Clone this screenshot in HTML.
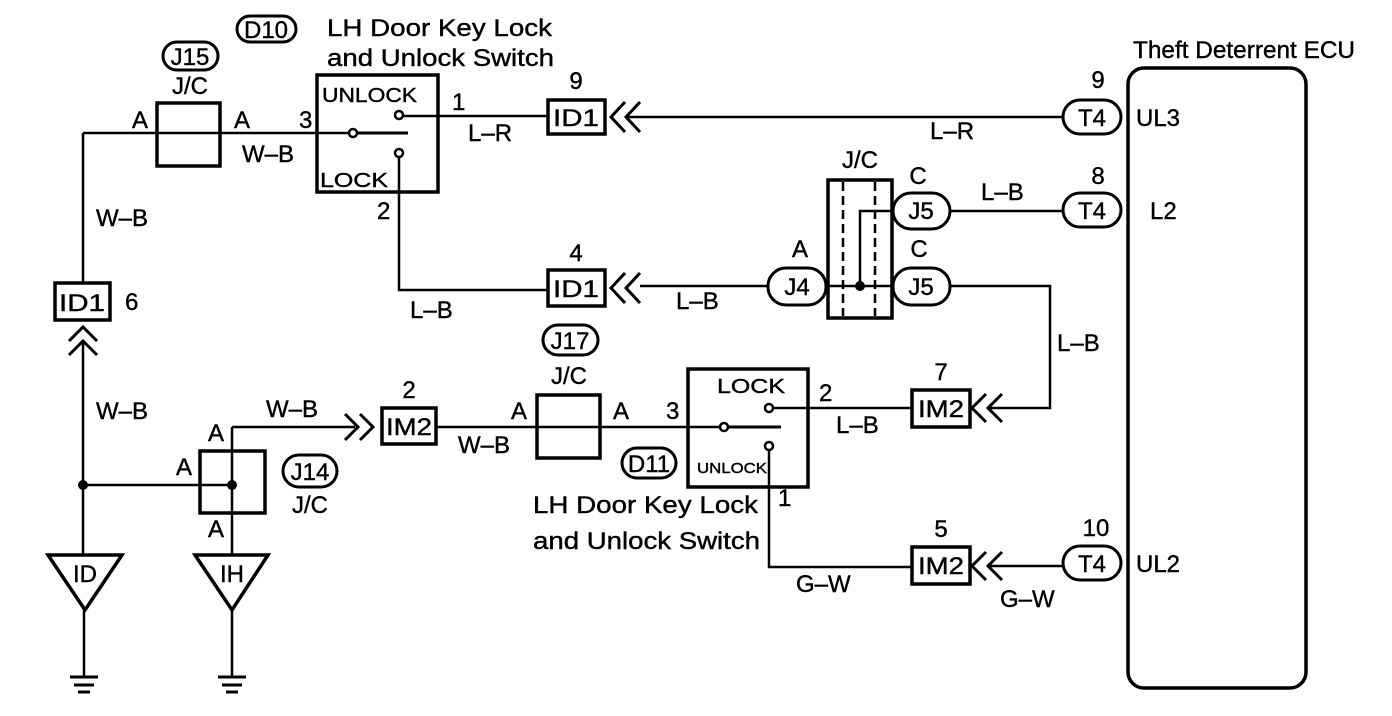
<!DOCTYPE html>
<html><head><meta charset="utf-8"><style>
html,body{margin:0;padding:0;background:#fff}
svg{display:block}
text{font-family:"Liberation Sans",sans-serif;fill:#000;stroke:#000;stroke-width:0.4}
</style></head><body>
<svg width="1392" height="716" viewBox="0 0 1392 716" xmlns="http://www.w3.org/2000/svg">
<g fill="none" stroke="#000" stroke-width="2.5">
<rect x="1128" y="68" width="178" height="620" rx="16" stroke-width="3.5"/>
<rect x="1063" y="100" width="58" height="34" rx="17" stroke-width="3"/>
<rect x="1063" y="193" width="58" height="34" rx="17" stroke-width="3"/>
<rect x="1063" y="546" width="58" height="34" rx="17" stroke-width="3"/>
<line x1="627" y1="117" x2="1063" y2="117"/>
<rect x="548" y="100" width="57" height="34" stroke-width="3.5"/>
<polyline points="625,102 611,117 625,132" stroke-width="3"/>
<polyline points="640,102 626,117 640,132" stroke-width="3"/>
<rect x="317" y="75" width="121" height="117" stroke-width="3.5"/>
<circle cx="399" cy="115" r="4"/>
<circle cx="353" cy="133" r="4"/>
<circle cx="399" cy="153" r="4"/>
<line x1="403" y1="116" x2="548" y2="116"/>
<line x1="357" y1="133" x2="408" y2="133" stroke-width="3"/>
<polyline points="399,157 399,290 548,290"/>
<line x1="83" y1="133" x2="349" y2="133"/>
<rect x="157" y="103" width="63" height="63" stroke-width="3.5"/>
<rect x="163" y="42" width="55" height="28" rx="14" stroke-width="3"/>
<rect x="237" y="16" width="59" height="26" rx="13" stroke-width="3"/>
<line x1="83" y1="133" x2="83" y2="283"/>
<rect x="55" y="283" width="55" height="37" stroke-width="3.5"/>
<polyline points="69,341 83,327 97,341" stroke-width="3"/>
<polyline points="69,355 83,341 97,355" stroke-width="3"/>
<line x1="83" y1="341" x2="83" y2="555"/>
<line x1="83" y1="485" x2="232" y2="485"/>
<rect x="200" y="451" width="65" height="62" stroke-width="3.5"/>
<line x1="232" y1="427" x2="232" y2="555"/>
<polyline points="232,427 355,427"/>
<polyline points="345,414 358,427 345,440" stroke-width="3"/>
<polyline points="360,414 373,427 360,440" stroke-width="3"/>
<rect x="382" y="408" width="54" height="36" stroke-width="3.5"/>
<line x1="436" y1="427" x2="720" y2="427"/>
<rect x="537" y="395" width="63" height="63" stroke-width="3.5"/>
<rect x="543" y="325" width="55" height="30" rx="15" stroke-width="3"/>
<rect x="283" y="455" width="54" height="32" rx="16" stroke-width="3"/>
<rect x="622" y="448" width="54" height="30" rx="15" stroke-width="3"/>
<polygon points="48,555 122,555 85,610" stroke-width="3.5"/>
<polygon points="195,555 268,555 232,610" stroke-width="3.5"/>
<line x1="84" y1="610" x2="84" y2="676"/>
<line x1="232" y1="610" x2="232" y2="676"/>
<g stroke-width="3">
<line x1="70" y1="677" x2="98" y2="677"/><line x1="74" y1="685" x2="94" y2="685"/><line x1="78" y1="692" x2="90" y2="692"/>
<line x1="218" y1="677" x2="246" y2="677"/><line x1="222" y1="685" x2="242" y2="685"/><line x1="226" y1="692" x2="238" y2="692"/>
</g>
<rect x="688" y="369" width="120" height="118" stroke-width="3.5"/>
<circle cx="769" cy="408" r="4"/>
<circle cx="724" cy="427" r="4"/>
<circle cx="769" cy="446" r="4"/>
<line x1="728" y1="427" x2="781" y2="427" stroke-width="3"/>
<line x1="773" y1="408" x2="912" y2="408"/>
<polyline points="769,450 769,567 912,567"/>
<rect x="912" y="390" width="58" height="37" stroke-width="3.5"/>
<polyline points="986,394 972,408 986,422" stroke-width="3"/>
<polyline points="1002,394 988,408 1002,422" stroke-width="3"/>
<polyline points="990,408 1050,408 1050,286 950,286"/>
<rect x="912" y="547" width="58" height="37" stroke-width="3.5"/>
<polyline points="986,552 972,566 986,580" stroke-width="3"/>
<polyline points="1002,552 988,566 1002,580" stroke-width="3"/>
<line x1="990" y1="566" x2="1063" y2="566"/>
<rect x="828" y="180" width="64" height="138" stroke-width="3.5"/>
<line x1="843" y1="182" x2="843" y2="316" stroke-dasharray="9,5"/>
<line x1="875" y1="182" x2="875" y2="316" stroke-dasharray="9,5"/>
<rect x="893" y="193" width="57" height="36" rx="18" stroke-width="3"/>
<rect x="893" y="268" width="57" height="37" rx="18" stroke-width="3"/>
<rect x="768" y="268" width="58" height="37" rx="18" stroke-width="3"/>
<polyline points="893,211 860,211 860,286"/>
<line x1="826" y1="286" x2="893" y2="286"/>
<line x1="950" y1="211" x2="1063" y2="211"/>
<line x1="640" y1="286" x2="768" y2="286"/>
<rect x="548" y="270" width="57" height="36" stroke-width="3.5"/>
<polyline points="625,273 611,288 625,303" stroke-width="3"/>
<polyline points="640,273 626,288 640,303" stroke-width="3"/>
</g>
<g fill="#000">
<circle cx="83" cy="485" r="5"/><circle cx="232" cy="485" r="5"/><circle cx="860" cy="286" r="5"/>
</g>
<g font-size="24">
<text x="1133" y="58" textLength="222" lengthAdjust="spacingAndGlyphs">Theft Deterrent ECU</text>
<text x="1092" y="126" text-anchor="middle">T4</text>
<text x="1092" y="219" text-anchor="middle">T4</text>
<text x="1092" y="572" text-anchor="middle">T4</text>
<text x="1098" y="88" text-anchor="middle">9</text>
<text x="1098" y="184" text-anchor="middle">8</text>
<text x="1096" y="536" text-anchor="middle">10</text>
<text x="1136" y="126">UL3</text>
<text x="1150" y="219">L2</text>
<text x="1136" y="572">UL2</text>
<text x="930" y="139">L–R</text>
<text x="468" y="141">L–R</text>
<text x="553" y="126" textLength="46" lengthAdjust="spacingAndGlyphs">ID1</text>
<text x="553" y="297" textLength="46" lengthAdjust="spacingAndGlyphs">ID1</text>
<text x="59" y="311" textLength="46" lengthAdjust="spacingAndGlyphs">ID1</text>
<text x="576" y="89" text-anchor="middle">9</text>
<text x="576" y="261" text-anchor="middle">4</text>
<text x="327" y="36" textLength="225" lengthAdjust="spacingAndGlyphs">LH Door Key Lock</text>
<text x="327" y="66" textLength="227" lengthAdjust="spacingAndGlyphs">and Unlock Switch</text>
<text x="266" y="38" text-anchor="middle">D10</text>
<text x="190" y="65" text-anchor="middle">J15</text>
<text x="190" y="94" text-anchor="middle">J/C</text>
<text x="132" y="128">A</text>
<text x="234" y="128">A</text>
<text x="299" y="128">3</text>
<text x="452" y="110">1</text>
<text x="377" y="219">2</text>
<text x="242" y="162">W–B</text>
<text x="96" y="226">W–B</text>
<text x="410" y="318">L–B</text>
<text x="676" y="309">L–B</text>
<text x="125" y="310">6</text>
<text x="96" y="419">W–B</text>
<text x="266" y="417">W–B</text>
<text x="458" y="453">W–B</text>
<text x="386" y="435" textLength="46" lengthAdjust="spacingAndGlyphs">IM2</text>
<text x="409" y="398" text-anchor="middle">2</text>
<text x="208" y="441">A</text>
<text x="176" y="475">A</text>
<text x="208" y="537">A</text>
<text x="310" y="480" text-anchor="middle">J14</text>
<text x="310" y="513" text-anchor="middle">J/C</text>
<text x="85" y="582" text-anchor="middle">ID</text>
<text x="232" y="582" text-anchor="middle">IH</text>
<text x="570" y="349" text-anchor="middle">J17</text>
<text x="569" y="384" text-anchor="middle">J/C</text>
<text x="511" y="419">A</text>
<text x="613" y="419">A</text>
<text x="666" y="419">3</text>
<text x="649" y="472" text-anchor="middle">D11</text>
<text x="533" y="513" textLength="225" lengthAdjust="spacingAndGlyphs">LH Door Key Lock</text>
<text x="533" y="549" textLength="227" lengthAdjust="spacingAndGlyphs">and Unlock Switch</text>
<text x="819" y="401">2</text>
<text x="778" y="506">1</text>
<text x="836" y="433">L–B</text>
<text x="918" y="417" textLength="46" lengthAdjust="spacingAndGlyphs">IM2</text>
<text x="918" y="574" textLength="46" lengthAdjust="spacingAndGlyphs">IM2</text>
<text x="941" y="380" text-anchor="middle">7</text>
<text x="941" y="537" text-anchor="middle">5</text>
<text x="1057" y="351">L–B</text>
<text x="796" y="592">G–W</text>
<text x="1000" y="607">G–W</text>
<text x="860" y="168" text-anchor="middle">J/C</text>
<text x="921" y="219" text-anchor="middle">J5</text>
<text x="921" y="295" text-anchor="middle">J5</text>
<text x="797" y="295" text-anchor="middle">J4</text>
<text x="918" y="184" text-anchor="middle">C</text>
<text x="919" y="257" text-anchor="middle">C</text>
<text x="800" y="257" text-anchor="middle">A</text>
<text x="981" y="200">L–B</text>
</g>
<g font-size="20">
<text x="322" y="102" textLength="95" lengthAdjust="spacingAndGlyphs">UNLOCK</text>
<text x="320" y="187" textLength="68" lengthAdjust="spacingAndGlyphs">LOCK</text>
<text x="717" y="393" textLength="68" lengthAdjust="spacingAndGlyphs">LOCK</text>
<text x="697" y="473" font-size="15" textLength="70" lengthAdjust="spacingAndGlyphs">UNLOCK</text>
</g>
</svg>
</body></html>
